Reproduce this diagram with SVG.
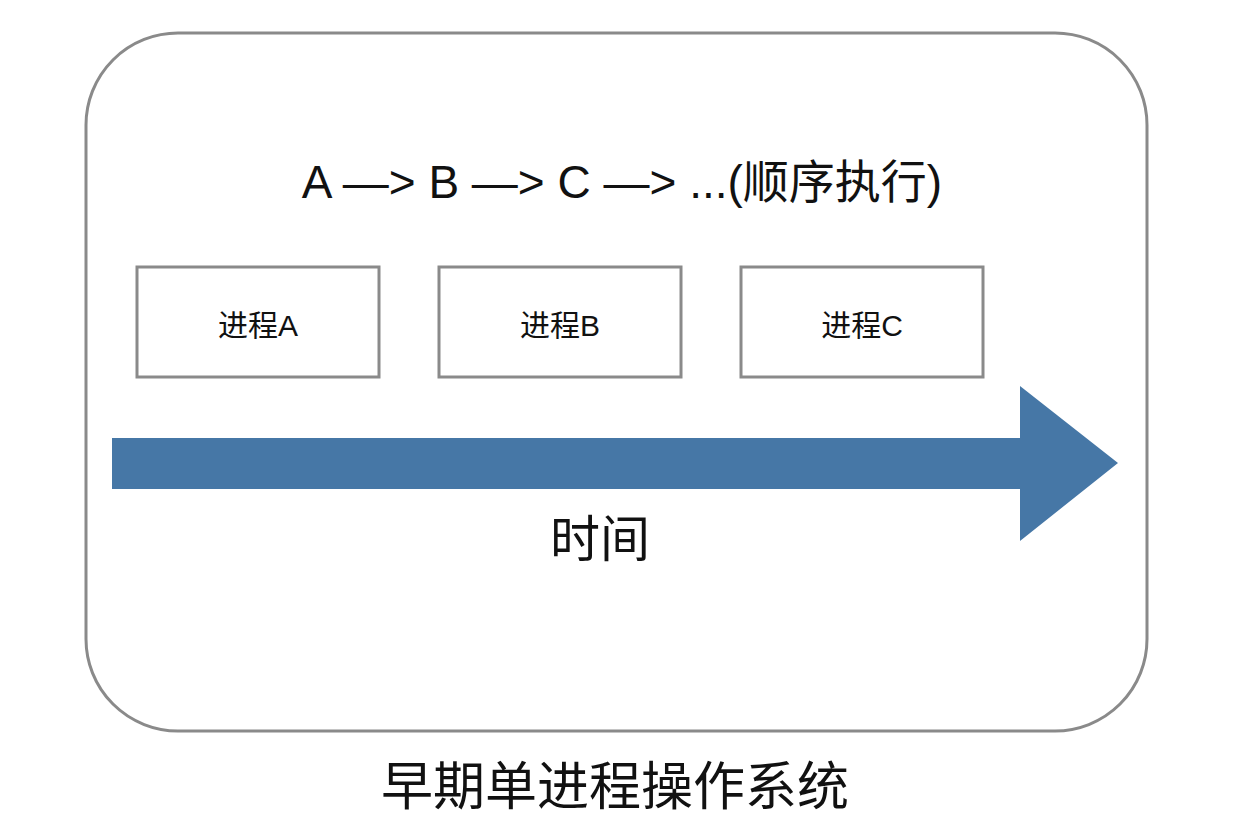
<svg xmlns="http://www.w3.org/2000/svg" width="1243" height="829" viewBox="0 0 1243 829">
<style>
text{font-family:"Liberation Sans","Noto Sans CJK SC",sans-serif;fill:#111;text-anchor:middle}
.box{fill:#fff;stroke:#8a8a8a;stroke-width:3}
</style>
<rect width="1243" height="829" fill="#fff"/>
<rect x="86" y="33" width="1061" height="698" rx="92" fill="#fff" stroke="#8a8a8a" stroke-width="3"/>
<text x="622" y="198" font-size="46">A —&gt; B —&gt; C —&gt; ...(顺序执行)</text>
<g id="nodeA"><rect class="box" x="137" y="267" width="242" height="110"/><text x="258" y="336" font-size="30">进程A</text></g>
<g id="nodeB"><rect class="box" x="439" y="267" width="242" height="110"/><text x="560" y="336" font-size="30">进程B</text></g>
<g id="nodeC"><rect class="box" x="741" y="267" width="242" height="110"/><text x="862" y="336" font-size="30">进程C</text></g>
<g id="connectors">
<polygon points="112,438 1020,438 1020,386 1118,463 1020,541 1020,489 112,489" fill="#4677a6"/>
</g>
<text x="600" y="557" font-size="50">时间</text>
<text x="615" y="805" font-size="52">早期单进程操作系统</text>
</svg>
